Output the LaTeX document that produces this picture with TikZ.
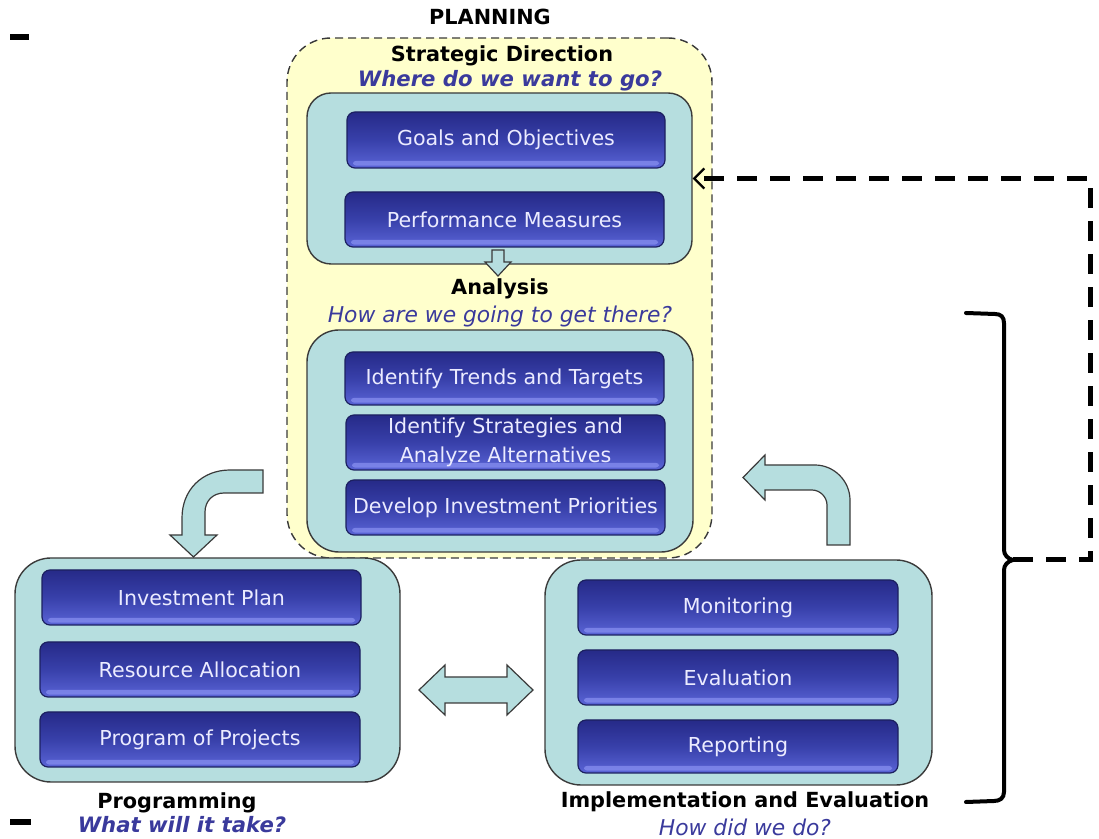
\documentclass[tikz,border=0pt]{standalone}
\usepackage{fontspec}
\setmainfont{DejaVu Sans}
\usetikzlibrary{fit,arrows.meta}
\definecolor{tealfill}{HTML}{B6DEDF}
\definecolor{yel}{HTML}{FFFFCC}
\definecolor{bTop}{HTML}{262A88}
\definecolor{bMid}{HTML}{3840AA}
\definecolor{bBot}{HTML}{5A64D6}
\definecolor{bHi}{HTML}{8A92F2}
\definecolor{bEdge}{HTML}{1C2060}
\definecolor{qblue}{HTML}{3A3A9C}
\definecolor{edgecol}{HTML}{3A3A3A}
\begin{document}
\begin{tikzpicture}[x=0.5pt,y=-0.5pt,
 planbox/.style={draw=edgecol, dash pattern=on 4pt off 2.5pt, line width=0.7pt, fill=yel, rounded corners=22pt, inner sep=0pt},
 groupbox/.style={draw=edgecol, line width=0.7pt, fill=tealfill, inner sep=0pt},
 itembox/.style={draw=bEdge, line width=0.6pt, rounded corners=4pt, top color=bTop, bottom color=bBot, middle color=bMid, inner sep=0pt,
   minimum width=159.5pt, minimum height=27.5pt, text=white!92!blue, font=\fontsize{10.3}{14.5}\selectfont, align=center,
   path picture={\fill[bHi, opacity=0.7, rounded corners=1.5pt] ([xshift=3pt,yshift=1.2pt]path picture bounding box.south west) rectangle ([xshift=-3pt,yshift=3.6pt]path picture bounding box.south east);}},
 titletext/.style={font=\bfseries\fontsize{10.4}{12}\selectfont, inner sep=0pt, anchor=base},
 question/.style={font=\itshape\fontsize{10.9}{12}\selectfont, text=qblue, inner sep=0pt, anchor=base},
 bquestion/.style={font=\bfseries\itshape\fontsize{10.6}{12}\selectfont, text=qblue, inner sep=0pt, anchor=base},
 blockarrow/.style={draw=edgecol, line width=0.6pt, fill=tealfill, line join=miter},
 feedback/.style={line width=2.5pt, dash pattern=on 10pt off 6.5pt},
]
\useasboundingbox (0,0) rectangle (1099,839);

% planning region
\node[planbox, fit={(287,38) (712,558)}] (planning) {};
\node[titletext] (plantitle) at (490,25) {PLANNING};
\node[titletext] (strattitle) at (502,62) {Strategic Direction};
\node[bquestion] (stratq) at (510,87) {Where do we want to go?};

\node[groupbox, rounded corners=12pt, fit={(307,93) (692,264)}] (topteal) {};
\node[itembox, minimum width=159pt, minimum height=28pt] (goals) at (506,140) {Goals and Objectives};
\node[itembox] (perf) at (504.5,219.5) {Performance Measures};

\node[titletext] (antitle) at (500,295) {Analysis};
\node[question] (anq) at (500,323) {How are we going to get there?};

\node[groupbox, rounded corners=16pt, fit={(307,330) (693,552)}] (anteal) {};
\node[itembox, minimum height=26.5pt] (trends) at (504.5,378.5) {Identify Trends and Targets};
\node[itembox] (strat) at (505.5,442.5) {Identify Strategies and\\Analyze Alternatives};
\node[itembox] (develop) at (505.5,507.5) {Develop Investment Priorities};

% small down arrow
\draw[blockarrow] (492,250) -- (504,250) -- (504,262) -- (511,262) -- (498,276) -- (485,262) -- (492,262) -- cycle;

% programming
\node[groupbox, rounded corners=18pt, fit={(15,558) (400,782)}] (progbox) {};
\node[itembox] (invplan) at (201.5,597.5) {Investment Plan};
\node[itembox, minimum width=160pt] (resalloc) at (200,669.5) {Resource Allocation};
\node[itembox, minimum width=160pt] (progproj) at (200,739.5) {Program of Projects};
\node[titletext] (progtitle) at (177,808) {Programming};
\node[bquestion] (progq) at (182,833) {What will it take?};

% implementation
\node[groupbox, rounded corners=18pt, fit={(545,560) (932,785)}] (implbox) {};
\node[itembox, minimum width=160pt] (monit) at (738,607.5) {Monitoring};
\node[itembox, minimum width=160pt] (evalb) at (738,677.5) {Evaluation};
\node[itembox, minimum width=160pt, minimum height=26.5pt] (report) at (738,746.5) {Reporting};
\node[titletext] (impltitle) at (745,807) {Implementation and Evaluation};
\node[question] (implq) at (745,835) {How did we do?};

% double arrow
\draw[blockarrow] (419,690) -- (445,665) -- (445,677) -- (507,677) -- (507,665) -- (533,690) -- (507,715) -- (507,703) -- (445,703) -- (445,715) -- cycle;

% left bent arrow
\draw[blockarrow] (263,470) -- (230,470) .. controls (202,470) and (182,490) .. (182,518) -- (182,535) -- (170,535) -- (193.5,557) -- (217,535) -- (205,535) -- (205,512) .. controls (205,501) and (213,493) .. (224,493) -- (263,493) -- cycle;

% right bent arrow
\draw[blockarrow] (827,545) -- (850,545) -- (850,500) .. controls (850,481) and (834,465) .. (815,465) -- (765,465) -- (765,455) -- (743,477.5) -- (765,500) -- (765,490) -- (812,490) .. controls (820,490) and (827,497) .. (827,505) -- cycle;

% brace
\coordinate (bracetip) at (1013,560);
\draw[line width=2pt, line cap=round] (966,313) -- (995,314) .. controls (1001,314) and (1004,317) .. (1004,323) -- (1004,550) .. controls (1004,555) and (1008,559) .. (bracetip) .. controls (1008,561) and (1004,565) .. (1004,570) -- (1004,792) .. controls (1004,798) and (1000,801) .. (994,801) -- (966,802);

% feedback dashed connector
\coordinate (fbbot) at (1090,560);
\coordinate (fbtop) at (1090,178.5);
\draw[feedback, -{Straight Barb[length=5pt,width=10pt,line width=1.1pt]}] (bracetip) -- (fbbot) -- (fbtop) -- (topteal.east);

% small marks at left
\draw[line width=2.6pt] (10,37) -- (29,37);
\draw[line width=2.6pt] (10,822) -- (31,822);
\end{tikzpicture}
\end{document}
